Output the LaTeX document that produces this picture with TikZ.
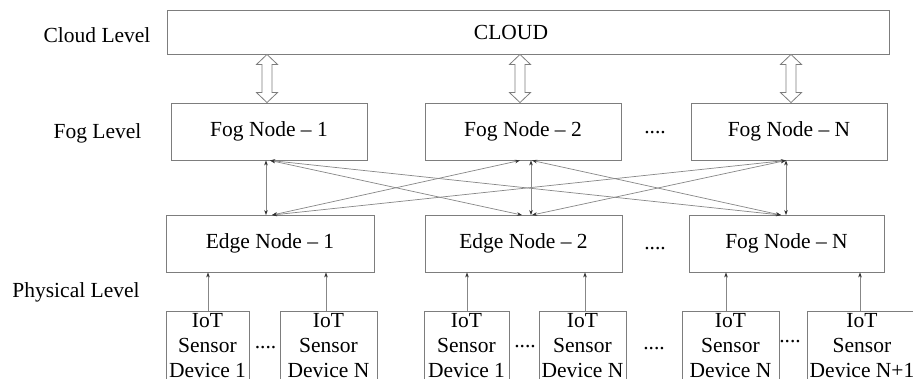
\documentclass[tikz,border=0pt]{standalone}
\usepackage{fontspec}
\setmainfont{Liberation Serif}
\usetikzlibrary{arrows.meta,calc}
\definecolor{boxgray}{RGB}{125,125,125}
\definecolor{linegray}{RGB}{135,135,135}
\newcommand{\mfnt}{\fontsize{21.5}{25}\selectfont}
\begin{document}
\begin{tikzpicture}[x=1pt,y=-1pt,
  box/.style={draw=boxgray, line width=0.9pt, inner sep=0pt, font=\mfnt, fill=white},
  lvl/.style={font=\mfnt, inner sep=0pt},
  dev/.style={draw=boxgray, line width=0.9pt, anchor=north, align=center, font=\mfnt,
    inner xsep=0pt, inner ysep=2pt, text depth=22pt},
  link/.style={draw=linegray, line width=0.7pt,
    {Stealth[length=5pt,width=3.6pt,black!80]}-{Stealth[length=5pt,width=3.6pt,black!80]}},
  uparrow/.style={draw=linegray, line width=0.7pt, -{Stealth[length=5pt,width=3.6pt,black!80]}},
  blk/.style={draw=boxgray, line width=0.8pt, fill=white},
  dotsnode/.style={font=\mfnt, inner sep=0pt, anchor=base}]
\useasboundingbox (0,0) rectangle (913,378);
\fill[white] (0,0) rectangle (913,378);
\clip (0,0) rectangle (913,378);

% level labels
\node[lvl] (lcloud) at (97,35.5) {Cloud Level};
\node[lvl] (lfog) at (97.5,133.5) {Fog Level};
\node[lvl] (lphys) at (76,292.5) {Physical Level};

% cloud
\node[box, minimum width=722pt, minimum height=44pt] (cloud) at (528,32) {CLOUD\rule{34pt}{0pt}};

% fog nodes
\node[box, minimum width=196pt, minimum height=57pt] (fog1) at (269,131.5) {Fog Node -- 1};
\node[box, minimum width=196pt, minimum height=57pt] (fog2) at (523,131.5) {Fog Node -- 2};
\node[box, minimum width=196pt, minimum height=57pt] (fogN) at (789,131.5) {Fog Node -- N};
\node[dotsnode] (fdots) at (655,133.5) {....};

% edge nodes
\node[box, minimum width=208pt, minimum height=56.5pt] (edge1) at (270,243.75) {Edge Node -- 1};
\node[box, minimum width=197pt, minimum height=56.5pt] (edge2) at (523.5,243.75) {Edge Node -- 2};
\node[box, minimum width=195pt, minimum height=56.5pt] (edgeN) at (786.5,243.75) {Fog Node -- N};
\node[dotsnode] (edots) at (655,249.5) {....};

% devices
\node[dev, minimum width=83pt] (d11) at (207.5,311) {IoT\\Sensor\\Device 1};
\node[dev, minimum width=97pt] (d1n) at (328.5,311) {IoT\\Sensor\\Device N};
\node[dev, minimum width=85pt] (d21) at (466.5,311) {IoT\\Sensor\\Device 1};
\node[dev, minimum width=87pt] (d2n) at (582.5,311) {IoT\\Sensor\\Device N};
\node[dev, minimum width=97pt] (d3n) at (730.5,311) {IoT\\Sensor\\Device N};
\node[dev, minimum width=110pt] (d3n1) at (862,311) {IoT\\Sensor\\Device N+1};
\node[dotsnode] (ddots1) at (265.5,348.5) {....};
\node[dotsnode] (ddots2) at (525,347.5) {....};
\node[dotsnode] (ddots3) at (654,349.5) {....};
\node[dotsnode] (ddots4) at (790,342.5) {....};

% hollow double arrows cloud <-> fog
\foreach \f/\s in {fog1/-2pt, fog2/-3pt, fogN/2pt}{
  \draw[blk] let \p1=([xshift=\s]\f.north), \p2=([xshift=\s]\f.north |- cloud.south) in
    (\x1,\y2) -- (\x1+10.5pt,\y2-10pt) -- (\x1+5pt,\y2-10pt) -- (\x1+5pt,\y1+10pt)
    -- (\x1+10.5pt,\y1+10pt) -- (\x1,\y1) -- (\x1-10.5pt,\y1+10pt) -- (\x1-5pt,\y1+10pt)
    -- (\x1-5pt,\y2-10pt) -- (\x1-10.5pt,\y2-10pt) -- cycle;
}

% fog <-> edge links
\draw[link] ([xshift=-3pt]fog1.south) -- ([xshift=-3pt]fog1.south |- edge1.north);
\draw[link] ([xshift=8pt]fog2.south) -- ([xshift=8pt]fog2.south |- edge2.north);
\draw[link] ([xshift=-3pt]fogN.south) -- ([xshift=-3pt]fogN.south |- edgeN.north);
\draw[link] ([xshift=1pt]fog1.south) -- ([xshift=-1.5pt]edge2.north);
\draw[link] ([xshift=1pt]fog1.south) -- ([xshift=-5.5pt]edgeN.north);
\draw[link] ([xshift=2pt]edge1.north) -- ([xshift=-3pt]fog2.south);
\draw[link] ([xshift=2pt]edge1.north) -- ([xshift=-3pt]fogN.south);
\draw[link] ([xshift=9pt]fog2.south) -- ([xshift=-5.5pt]edgeN.north);
\draw[link] ([xshift=8.5pt]edge2.north) -- ([xshift=-3pt]fogN.south);

% device -> edge arrows
\draw[uparrow] ([xshift=0.5pt]d11.north) -- ([xshift=0.5pt]d11.north |- edge1.south);
\draw[uparrow] ([xshift=-2.5pt]d1n.north) -- ([xshift=-2.5pt]d1n.north |- edge1.south);
\draw[uparrow] ([xshift=0.5pt]d21.north) -- ([xshift=0.5pt]d21.north |- edge2.south);
\draw[uparrow] ([xshift=2.5pt]d2n.north) -- ([xshift=2.5pt]d2n.north |- edge2.south);
\draw[uparrow] ([xshift=-4.5pt]d3n.north) -- ([xshift=-4.5pt]d3n.north |- edgeN.south);
\draw[uparrow] ([xshift=-2pt]d3n1.north) -- ([xshift=-2pt]d3n1.north |- edgeN.south);
\end{tikzpicture}
\end{document}
